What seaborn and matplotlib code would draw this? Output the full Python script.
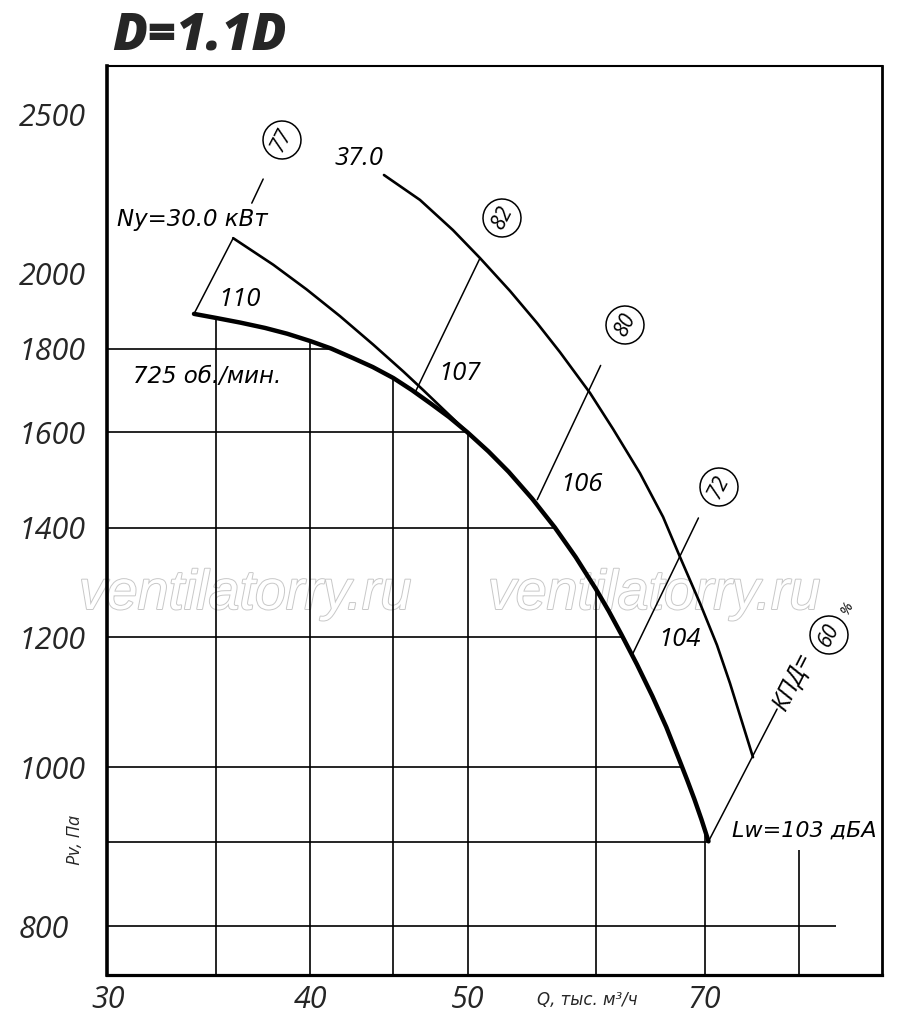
import numpy as np
import pandas as pd
import matplotlib
matplotlib.use('Agg')
import matplotlib.pyplot as plt
import matplotlib.patheffects as pe
from matplotlib.ticker import NullLocator
import seaborn as sns

# fan curve at 725 rpm (thick line)
q_main = [33.9, 35.0, 36.2, 37.5, 38.7, 40.0, 41.2, 42.5, 43.7, 45.0, 46.2,
          47.5, 48.7, 50.0, 51.5, 53.0, 54.8, 56.6, 58.3, 60.0, 61.1, 62.2,
          63.6, 65.0, 66.3, 67.6, 68.3, 69.0, 69.7, 70.4]
p_main = [1890, 1879, 1867, 1853, 1838, 1819, 1800, 1776, 1754, 1727, 1698,
          1665, 1635, 1600, 1558, 1514, 1458, 1400, 1343, 1284, 1245, 1205,
          1155, 1105, 1058, 1008, 982, 956, 929, 901]

# Ny = 30.0 kW boundary
q_n30 = [35.84, 37.94, 39.78, 41.71, 43.73, 45.64, 46.95, 48.30, 50.0]
p_n30 = [2102, 2025, 1956, 1884, 1810, 1743, 1698, 1653, 1600]

# 37.0 kW boundary
q_n37 = [44.40, 46.73, 48.97, 50.89, 53.10, 55.18, 57.01, 59.50, 61.47, 63.87,
         66.00, 67.61, 69.55, 71.25, 72.58, 74.99]
p_n37 = [2297, 2218, 2126, 2044, 1952, 1866, 1791, 1691, 1608, 1511,
         1421, 1343, 1259, 1187, 1125, 1014]

# system lines (efficiency %, noise level dBA)
eff = [77, 82, 80, 72, 60]
lw_db = [110, 107, 106, 104, 103]
ray_q0 = [33.9, 46.4, 55.2, 63.2, 70.4]
ray_p0 = [1890, 1692, 1456, 1172, 901]
ray_q1 = [35.84, 50.89, 60.4, 69.4, 77.6]
ray_p1 = [2102, 2044, 1758, 1419, 1085]
# short leader above the Ny label
lead_q = [36.8, 37.4]
lead_p = [2208, 2284]

grid_p = [800, 900, 1000, 1200, 1400, 1600, 1800]
grid_q = [35, 40, 45, 50, 60, 70, 80]
ytick_vals = [800, 900, 1000, 1200, 1400, 1600, 1800, 2000, 2500]
ytick_lbls = ['800', '', '1000', '1200', '1400', '1600', '1800', '2000', '2500']
xtick_vals = [30, 35, 40, 45, 50, 60, 70, 80]
xtick_lbls = ['30', '', '40', '', '50', '', '70', '']

sns.set_style('white')
plt.rcParams['font.family'] = ['Open Sans', 'DejaVu Sans']
CYR = ['DejaVu Sans']  # oblique keeps the upright-style т, д, и

fig = plt.figure(figsize=(9, 10.28), dpi=100)
ax = fig.add_axes([107 / 900, 53 / 1028, 775 / 900, 909 / 1028])
ax.set_xscale('log')
ax.set_yscale('log')
XL = (29.96, 90.07)
YL = (746.8, 2677)


def at(px, py):
    return ((px - 107) / 775, (975 - py) / 909)


# grid segments stop at the fan curve
lq = np.log(q_main)
lp = np.log(p_main)
h_end = np.exp(np.interp(np.log(grid_p), lp[::-1], lq[::-1]))
h_end[0] = 84.4
v_end = np.exp(np.interp(np.log(grid_q), lq, lp))
v_end[-1] = 890
ax.hlines(grid_p, XL[0], h_end, colors='black', lw=1.2, zorder=1)
ax.vlines(grid_q, YL[0], v_end, colors='black', lw=1.2, zorder=1)

sns.lineplot(x=q_main, y=p_main, ax=ax, color='black', lw=3.2, sort=False,
             estimator=None, zorder=4, solid_joinstyle='round')
sns.lineplot(x=q_n30, y=p_n30, ax=ax, color='black', lw=1.9, sort=False,
             estimator=None, zorder=3, solid_joinstyle='round')
sns.lineplot(x=q_n37, y=p_n37, ax=ax, color='black', lw=1.9, sort=False,
             estimator=None, zorder=3, solid_joinstyle='round')

rays = pd.DataFrame({
    'q': ray_q0 + ray_q1 + lead_q,
    'p': ray_p0 + ray_p1 + lead_p,
    'ray': list(range(5)) + list(range(5)) + [9, 9],
})
sns.lineplot(data=rays, x='q', y='p', units='ray', estimator=None, ax=ax,
             color='black', lw=1.1, zorder=3)

ax.set_xlim(*XL)
ax.set_ylim(*YL)
ax.xaxis.set_minor_locator(NullLocator())
ax.yaxis.set_minor_locator(NullLocator())
ax.set_xticks(xtick_vals, xtick_lbls)
ax.set_yticks(ytick_vals, ytick_lbls)
ax.tick_params(axis='y', length=7.5, width=1.2, direction='out', pad=56,
               labelsize=22, color='black')
ax.tick_params(axis='x', length=6, width=1.2, direction='out', pad=1,
               labelsize=22, color='black')
for t in ax.get_yticklabels():
    t.set_ha('left')
    t.set_fontstyle('italic')
for t in ax.get_xticklabels():
    t.set_fontstyle('italic')
ax.set_xlabel('')
ax.set_ylabel('')

for side, w in [('left', 2.6), ('bottom', 2.3), ('top', 1.5), ('right', 2.0)]:
    ax.spines[side].set_visible(True)
    ax.spines[side].set_linewidth(w)
    ax.spines[side].set_color('black')

it = dict(fontstyle='italic', color='black', transform=ax.transAxes)
ax.text(*at(117, 226), 'Ny=30.0 кВт', fontsize=16.5, family=CYR, ha='left',
        va='baseline', **it)
ax.text(*at(334, 165), '37.0', fontsize=18.5, ha='left', va='baseline', **it)
ax.text(*at(133, 383), '725 об./мин.', fontsize=16.5, family=CYR, ha='left',
        va='baseline', **it)
lbl_pos = [(218, 306), (438, 380), (560, 491), (658, 646)]
for (px, py), v in zip(lbl_pos, lw_db[:4]):
    ax.text(*at(px, py), str(v), fontsize=18.5, ha='left', va='baseline', **it)
ax.text(*at(732, 837), f'Lw={lw_db[4]} дБА', fontsize=16, family=CYR,
        ha='left', va='baseline', **it)

circ = [(282, 140), (502, 218), (625, 325), (719, 487), (829, 635)]
for (px, py), v in zip(circ, eff):
    ax.text(*at(px, py), str(v), fontsize=15, rotation=63, ha='center',
            va='center', rotation_mode='anchor', zorder=6,
            bbox=dict(boxstyle='circle,pad=0.36', fc='white', ec='black', lw=1.1),
            **it)
ax.text(*at(779, 709), 'КПД=', fontsize=18, rotation=63,
        ha='left', va='center', rotation_mode='anchor', **it)
ax.text(*at(847, 608), '%', fontsize=11, rotation=63, ha='center', va='center',
        rotation_mode='anchor', **it)

for px in (245, 654):
    ax.text(*at(px, 595), 'ventilatorry.ru', fontsize=40, fontstyle='italic',
            family='Liberation Sans', color='white', ha='center', va='center',
            transform=ax.transAxes, zorder=0.5,
            path_effects=[pe.withStroke(linewidth=1.4, foreground='#c8c8c8')])

fig.text(587 / 900, 1 - 1000 / 1028, 'Q, тыс. м³/ч', fontsize=12, family=CYR,
         fontstyle='italic', ha='center', va='center')
fig.text(75 / 900, 1 - 840 / 1028, 'Pv, Па', fontsize=13,
         fontstyle='italic', rotation=90, ha='center', va='center')
fig.text(112 / 900, 1 - 50 / 1028, 'D=1.1D', fontsize=37, fontstyle='italic',
         fontweight=800, ha='left', va='baseline')

fig.savefig('out.png', dpi=100)
